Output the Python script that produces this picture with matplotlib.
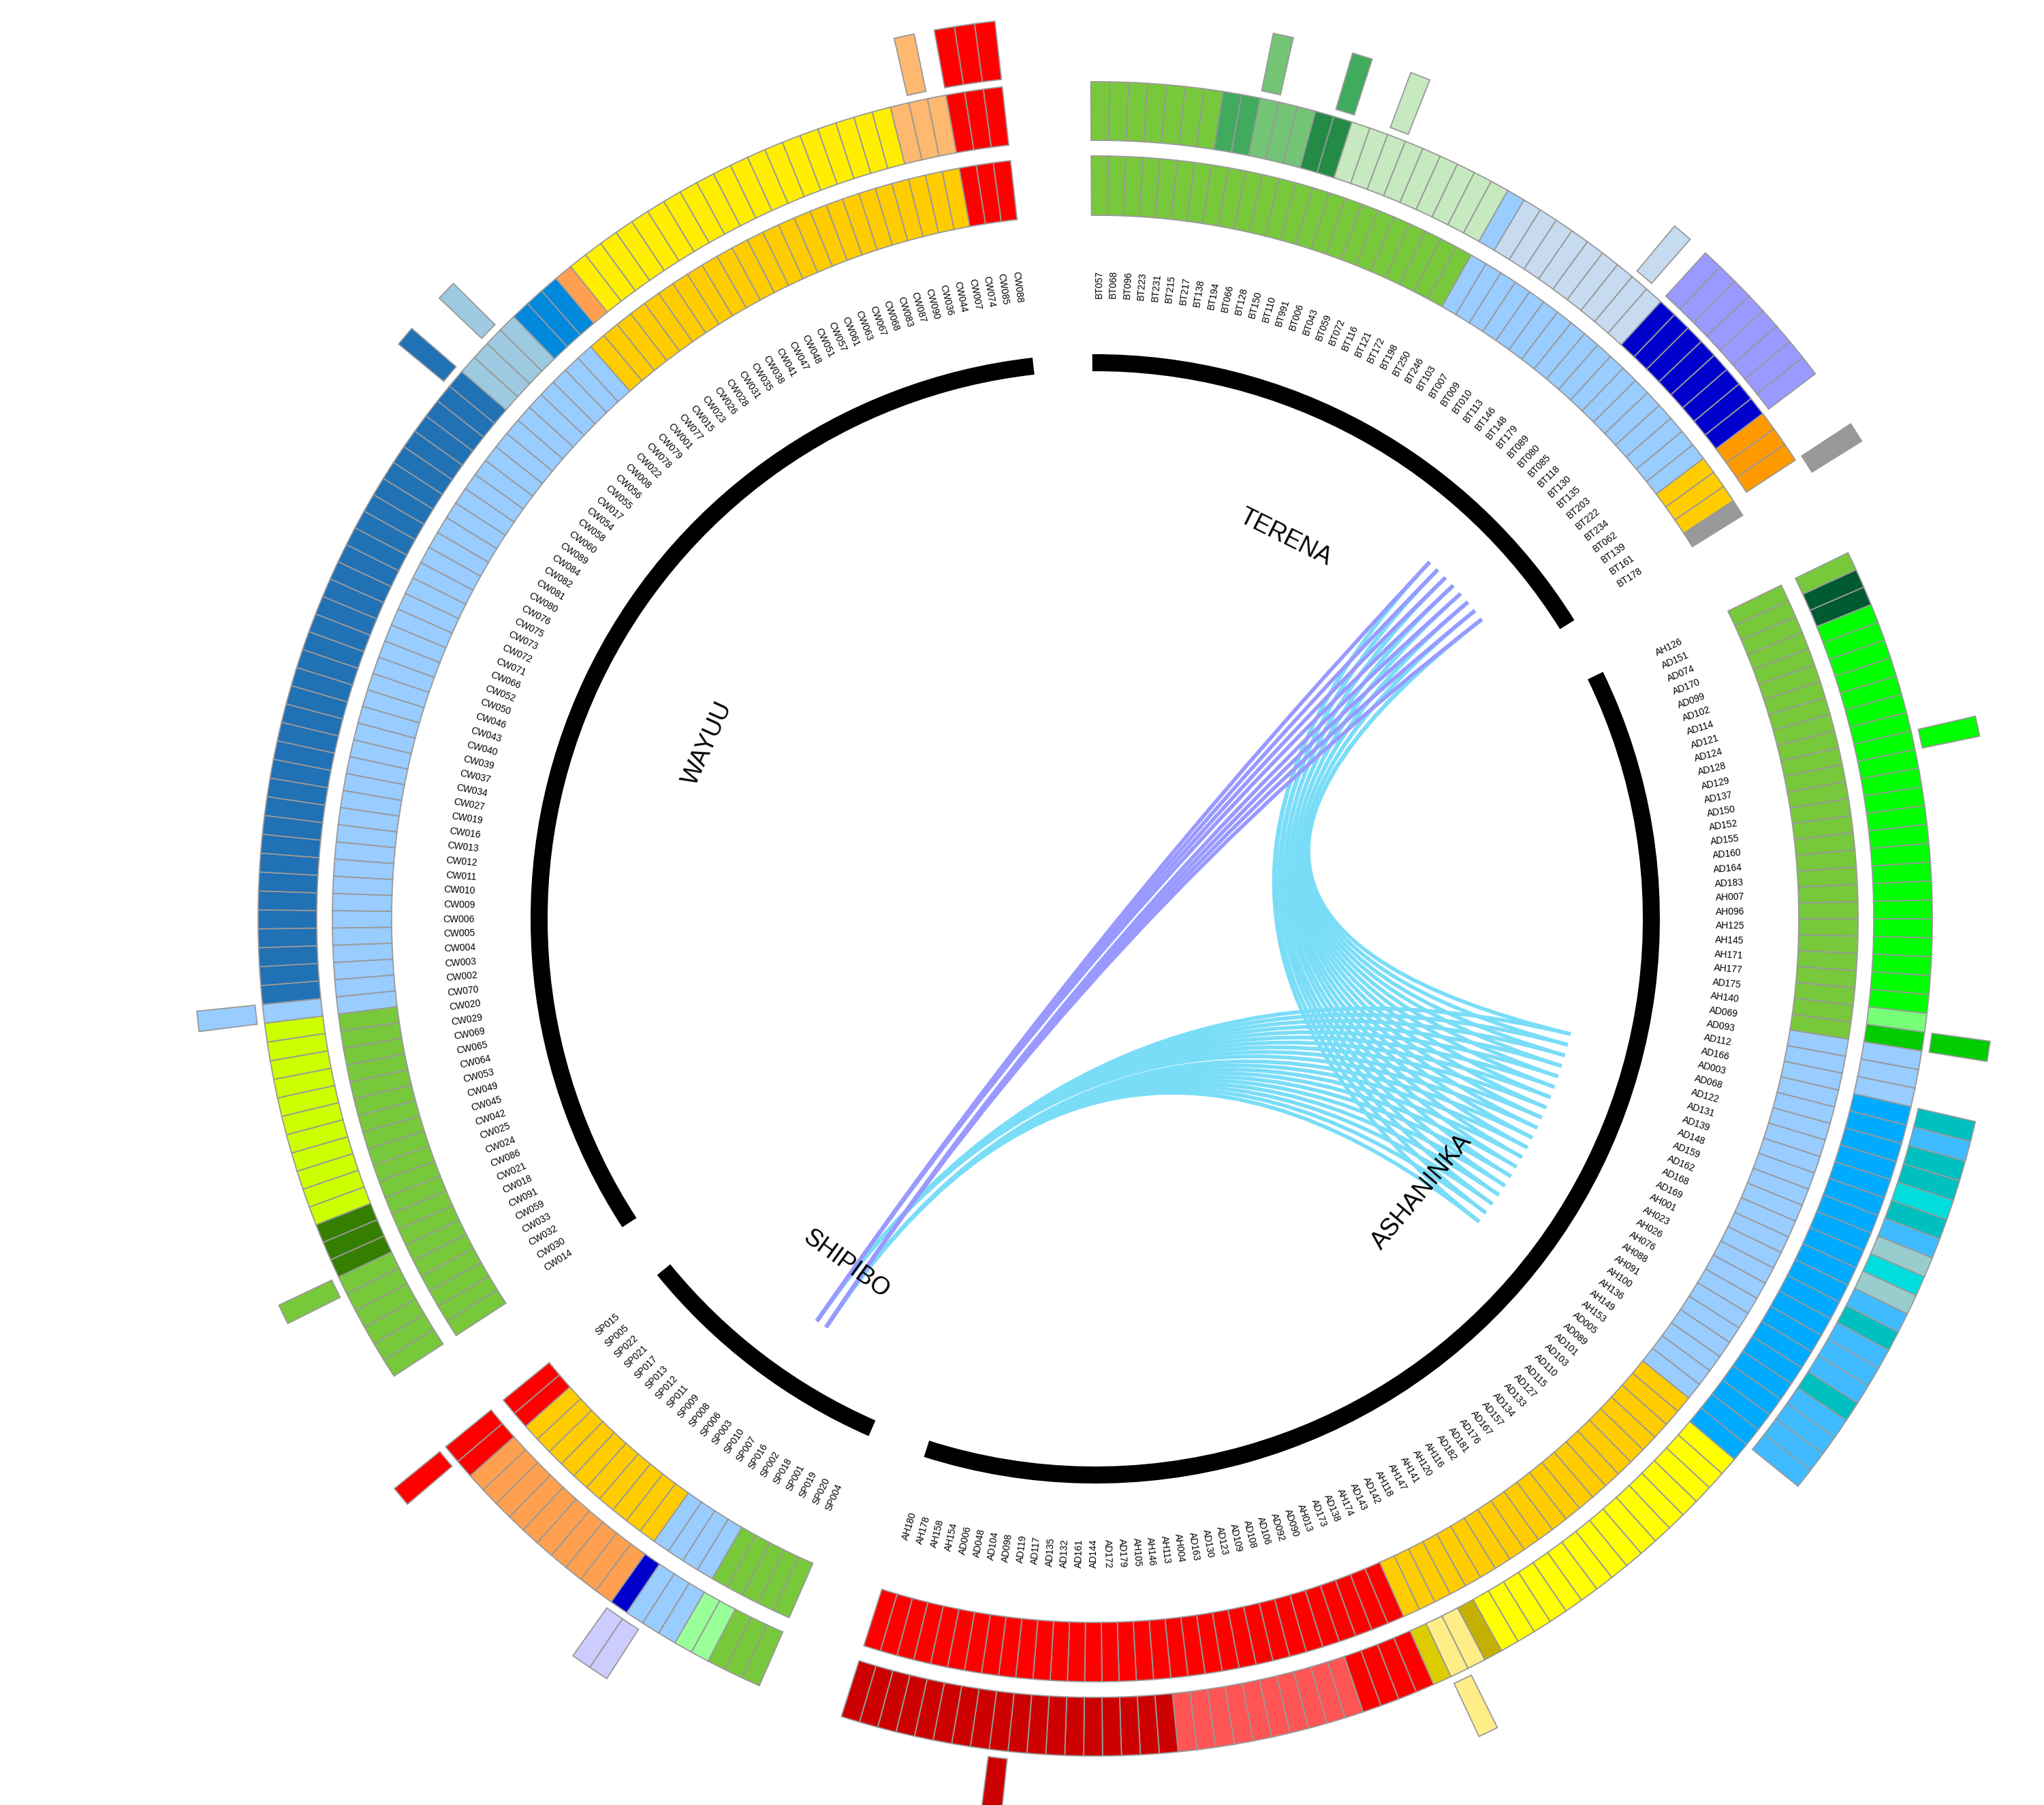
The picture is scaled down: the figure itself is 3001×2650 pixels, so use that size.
import numpy as np
import matplotlib
matplotlib.use("Agg")
import matplotlib.pyplot as plt
from matplotlib.patches import Wedge, PathPatch
from matplotlib.path import Path

plt.rcParams['font.family'] = ['Liberation Sans', 'DejaVu Sans']

# sample ids per population, clockwise order
terena_ids = ['BT057', 'BT068', 'BT096', 'BT223', 'BT231', 'BT215', 'BT217', 'BT138', 'BT194', 'BT066',
              'BT128', 'BT150', 'BT110', 'BT991', 'BT006', 'BT043', 'BT059', 'BT072', 'BT116', 'BT121',
              'BT172', 'BT198', 'BT250', 'BT246', 'BT103', 'BT007', 'BT009', 'BT010', 'BT113', 'BT146',
              'BT148', 'BT179', 'BT089', 'BT080', 'BT085', 'BT118', 'BT130', 'BT135', 'BT203', 'BT222',
              'BT234', 'BT062', 'BT139', 'BT161', 'BT178']
ashaninka_ids = ['AH126', 'AD151', 'AD074', 'AD170', 'AD099', 'AD102', 'AD114', 'AD121', 'AD124', 'AD128',
                 'AD129', 'AD137', 'AD150', 'AD152', 'AD155', 'AD160', 'AD164', 'AD183', 'AH007', 'AH096',
                 'AH125', 'AH145', 'AH171', 'AH177', 'AD175', 'AH140', 'AD069', 'AD093', 'AD112', 'AD166',
                 'AD003', 'AD068', 'AD122', 'AD131', 'AD139', 'AD148', 'AD159', 'AD162', 'AD168', 'AD169',
                 'AH001', 'AH023', 'AH026', 'AH076', 'AH088', 'AH091', 'AH100', 'AH136', 'AH149', 'AH153',
                 'AD005', 'AD089', 'AD101', 'AD103', 'AD110', 'AD115', 'AD127', 'AD133', 'AD134', 'AD157',
                 'AD167', 'AD176', 'AD181', 'AD182', 'AH116', 'AH120', 'AH141', 'AH147', 'AH118', 'AD142',
                 'AD143', 'AH174', 'AD138', 'AD173', 'AH013', 'AD090', 'AD092', 'AD106', 'AD108', 'AD109',
                 'AD123', 'AD130', 'AD163', 'AH004', 'AH113', 'AH146', 'AH105', 'AD179', 'AD172', 'AD144',
                 'AD161', 'AD132', 'AD135', 'AD117', 'AD119', 'AD098', 'AD104', 'AD048', 'AD006', 'AH154',
                 'AH158', 'AH178', 'AH180']
shipibo_ids = ['SP004', 'SP020', 'SP019', 'SP001', 'SP018', 'SP002', 'SP016', 'SP007', 'SP010', 'SP003',
               'SP006', 'SP008', 'SP009', 'SP011', 'SP012', 'SP013', 'SP017', 'SP021', 'SP022', 'SP005',
               'SP015']
wayuu_ids = ['CW014', 'CW030', 'CW032', 'CW033', 'CW059', 'CW091', 'CW018', 'CW021', 'CW086', 'CW024',
             'CW025', 'CW042', 'CW045', 'CW049', 'CW053', 'CW064', 'CW065', 'CW069', 'CW029', 'CW020',
             'CW070', 'CW002', 'CW003', 'CW004', 'CW005', 'CW006', 'CW009', 'CW010', 'CW011', 'CW012',
             'CW013', 'CW016', 'CW019', 'CW027', 'CW034', 'CW037', 'CW039', 'CW040', 'CW043', 'CW046',
             'CW050', 'CW052', 'CW066', 'CW071', 'CW072', 'CW073', 'CW075', 'CW076', 'CW080', 'CW081',
             'CW082', 'CW084', 'CW089', 'CW060', 'CW058', 'CW054', 'CW017', 'CW055', 'CW056', 'CW008',
             'CW022', 'CW078', 'CW079', 'CW001', 'CW077', 'CW015', 'CW023', 'CW026', 'CW028', 'CW031',
             'CW035', 'CW038', 'CW041', 'CW047', 'CW048', 'CW051', 'CW057', 'CW061', 'CW063', 'CW067',
             'CW068', 'CW083', 'CW087', 'CW090', 'CW036', 'CW044', 'CW007', 'CW074', 'CW085', 'CW088']

# category colours (one letter per category, '.' = no value)
colors = {
    'g': '#78C83C', 'b': '#99CCFF', 'o': '#FFCC00', 'r': '#FF0000', 'x': '#999999',
    'm': '#41AB5D', 'l': '#74C476', 'd': '#238B45', 'p': '#C7E9C0', 'q': '#C6DBEF',
    'B': '#0000CC', 'O': '#FF9900', 'v': '#9999FF',
    'k': '#005A32', 'G': '#00FF00', 'h': '#77FF77', 'c': '#00CC00', 'a': '#00AAFF',
    'y': '#FFFF00', 'w': '#C4B000', 'e': '#FFEE88', 'u': '#DDCC00', 's': '#FF5555', 'R': '#CC0000',
    't': '#00BFBF', 'z': '#40BBFF', 'C': '#00DDDD', 'n': '#99CCCC',
    'P': '#99FF99', 'A': '#FFA050', 'L': '#CCCCFF',
    'K': '#357E00', 'Y': '#CCFF00', 'D': '#2171B5', 'E': '#9ECAE1', 'M': '#0088DD',
    'Q': '#FFEE00', 'T': '#FFB870',
}

# tracks as runs of (category, number of samples), clockwise
terena_ring1 = [('g', 23), ('b', 18), ('o', 3), ('x', 1)]
terena_ring2 = [('g', 7), ('m', 2), ('l', 3), ('d', 2), ('p', 9), ('b', 1), ('q', 9), ('B', 8), ('O', 3), ('.', 1)]
terena_ring3 = [('.', 9), ('l', 1), ('.', 3), ('m', 1), ('.', 2), ('p', 1), ('.', 14), ('q', 1), ('.', 1),
                ('v', 8), ('.', 3), ('x', 1)]

ash_ring1 = [('g', 27), ('b', 23), ('o', 21), ('r', 32)]
ash_ring2 = [('g', 1), ('k', 2), ('G', 22), ('h', 1), ('c', 1), ('b', 3), ('a', 21), ('y', 16), ('w', 1),
             ('e', 2), ('u', 1), ('r', 4), ('s', 10), ('R', 18)]
ash_ring3 = [('.', 10), ('G', 1), ('.', 15), ('c', 1), ('.', 3),
             ('t', 1), ('z', 1), ('t', 2), ('C', 1), ('t', 1), ('z', 1), ('n', 1), ('C', 1), ('n', 1),
             ('z', 1), ('t', 1), ('z', 3), ('t', 1), ('z', 4),
             ('.', 19), ('e', 1), ('.', 24), ('R', 1), ('.', 8)]

sp_ring1 = [('g', 5), ('b', 4), ('o', 10), ('r', 2)]
sp_ring2 = [('g', 3), ('P', 2), ('b', 3), ('B', 1), ('A', 10), ('r', 2)]
sp_ring3 = [('.', 7), ('L', 2), ('.', 11), ('r', 1)]

cw_ring1 = [('g', 20), ('b', 43), ('o', 24), ('r', 3)]
cw_ring2 = [('g', 6), ('K', 3), ('Y', 11), ('b', 1), ('D', 36), ('E', 4), ('M', 3), ('A', 1), ('Q', 19),
            ('T', 3), ('r', 3)]
cw_ring3 = [('.', 5), ('g', 1), ('.', 14), ('b', 1), ('.', 35), ('D', 1), ('.', 2), ('E', 1), ('.', 25),
            ('T', 1), ('.', 1), ('r', 3)]

# links (sample position, 1-based)
lavender_links = [(34, 9), (35, 9), (36, 9), (37, 9), (38, 8), (39, 8), (40, 8), (41, 8)]  # TERENA -> SHIPIBO
cyan_links_sp = [(31, 9), (32, 9), (33, 9), (34, 9), (35, 9), (36, 9), (37, 9), (38, 9), (39, 9), (40, 9),
                 (41, 8), (42, 8), (43, 8), (44, 8), (45, 8), (46, 8), (47, 8), (48, 8), (49, 8),
                 (50, 8)]  # ASHANINKA -> SHIPIBO
cyan_links_bt = [(31, 41), (32, 41), (33, 41), (34, 40), (35, 40), (36, 39), (37, 39), (38, 39), (39, 38),
                 (40, 38), (41, 37), (42, 37), (43, 37), (44, 36), (45, 36), (46, 35), (47, 35), (48, 35),
                 (49, 34), (50, 34)]  # ASHANINKA -> TERENA

# geometry (pixels)
W, H = 3001, 2650
CX, CY = 1608, H - 1349
STEP = 1.297
GAP = 6.0
START = 90.3
R1 = (1033, 1120)
R2 = (1143, 1229)
R3 = (1240, 1326)
R_BLACK = (804, 829)
R_LAB = 911
R_LINK = 718
R_NAME = 625
EDGE = '#999999'
NAME_SHIFT = {'TERENA': 2.4, 'ASHANINKA': 1.0, 'SHIPIBO': 1.5, 'WAYUU': 0.9}

groups = [('TERENA', terena_ids, terena_ring1, terena_ring2, terena_ring3),
          ('ASHANINKA', ashaninka_ids, ash_ring1, ash_ring2, ash_ring3),
          ('SHIPIBO', shipibo_ids, sp_ring1, sp_ring2, sp_ring3),
          ('WAYUU', wayuu_ids, cw_ring1, cw_ring2, cw_ring3)]

fig = plt.figure(figsize=(W / 100, H / 100), dpi=100)
ax = fig.add_axes([0, 0, 1, 1])
ax.set_xlim(0, W)
ax.set_ylim(0, H)
ax.axis('off')


def draw_ring(start, runs, r_in, r_out):
    codes = ''.join(c * n for c, n in runs)
    for k, c in enumerate(codes):
        if c == '.':
            continue
        ax.add_patch(Wedge((CX, CY), r_out, start - (k + 1) * STEP, start - k * STEP,
                           width=r_out - r_in, facecolor=colors[c], edgecolor=EDGE, lw=1.3))


def point(start, pos, r):
    a = np.deg2rad(start - (pos - 0.5) * STEP)
    return CX + r * np.cos(a), CY + r * np.sin(a)


starts = {}
s = START
for name, ids, ring1, ring2, ring3 in groups:
    n = len(ids)
    starts[name] = s
    draw_ring(s, ring1, *R1)
    draw_ring(s, ring2, *R2)
    draw_ring(s, ring3, *R3)
    # black group arc
    ax.add_patch(Wedge((CX, CY), R_BLACK[1], s - n * STEP, s, width=R_BLACK[1] - R_BLACK[0],
                       facecolor='black', edgecolor='none'))
    # sample labels
    for k, lab in enumerate(ids):
        a = s - (k + 0.5) * STEP
        x = CX + R_LAB * np.cos(np.deg2rad(a))
        y = CY + R_LAB * np.sin(np.deg2rad(a))
        if np.cos(np.deg2rad(a)) >= 0:
            ax.text(x, y, lab, rotation=a, ha='left', va='center', rotation_mode='anchor', fontsize=10)
        else:
            ax.text(x, y, lab, rotation=a + 180, ha='right', va='center', rotation_mode='anchor', fontsize=10)
    # population name
    mid = s - n * STEP / 2 + NAME_SHIFT[name]
    rot = mid - 90
    if np.sin(np.deg2rad(mid)) < 0:
        rot += 180
    ax.text(CX + R_NAME * np.cos(np.deg2rad(mid)), CY + R_NAME * np.sin(np.deg2rad(mid)), name,
            rotation=rot, ha='center', va='center', rotation_mode='anchor', fontsize=26)
    s = s - n * STEP - GAP


def link(p0, p1, color):
    path = Path([p0, (CX, CY), p1], [Path.MOVETO, Path.CURVE3, Path.CURVE3])
    ax.add_patch(PathPatch(path, fill=False, edgecolor=color, lw=4, capstyle='butt'))


for a_pos, s_pos in cyan_links_sp:
    link(point(starts['ASHANINKA'], a_pos, R_LINK), point(starts['SHIPIBO'], s_pos, R_LINK), '#7ADDF8')
for a_pos, t_pos in cyan_links_bt:
    link(point(starts['ASHANINKA'], a_pos, R_LINK), point(starts['TERENA'], t_pos, R_LINK), '#7ADDF8')
for t_pos, s_pos in lavender_links:
    link(point(starts['TERENA'], t_pos, R_LINK), point(starts['SHIPIBO'], s_pos, R_LINK), '#9999FF')

fig.savefig('out.png', dpi=100)
